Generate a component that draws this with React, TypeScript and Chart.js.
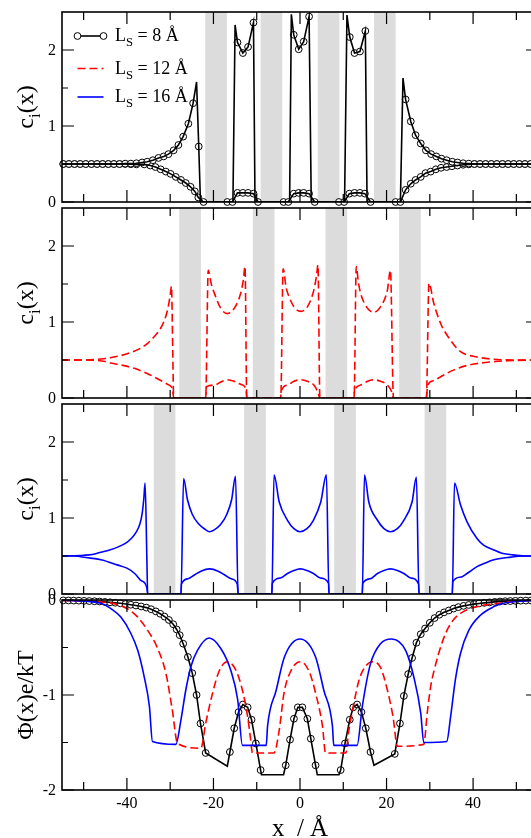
import React, { useEffect, useRef } from 'react';
import { Chart, registerables } from 'chart.js';

Chart.register(...registerables);

type Pt = [number, number];

// ---------- axis / tick values ----------
const X_MIN = -55;
const X_MAX = 55;
const X_MAJOR = [-40, -20, 0, 20, 40];
const X_MINOR = [-50, -30, -10, 10, 30, 50];
const C_MAJOR = [0, 1, 2];
const C_MINOR = [0.5, 1.5];
const PHI_MAJOR = [0, -1, -2];
const PHI_MINOR = [-0.5, -1.5];

const LEGEND_LABELS = ['8 Å', '12 Å', '16 Å'];

// ---------- grey wall bands (x ranges) ----------
const BANDS_8: Pt[] = [[-21.9, -16.9], [-9.1, -4.1], [4.1, 9.1], [17.1, 22.1]];
const BANDS_12: Pt[] = [[-27.9, -22.9], [-10.9, -5.9], [5.9, 10.9], [22.9, 27.9]];
const BANDS_16: Pt[] = [[-33.8, -28.8], [-12.9, -7.9], [7.9, 12.9], [28.8, 33.8]];

// ---------- panel 1 : L_S = 8 Å ----------
const C8_UP_MARK: Pt[] = [
  [-54.7, 0.5], [-53.4, 0.5], [-52.1, 0.5], [-50.8, 0.5], [-49.5, 0.5], [-48.2, 0.5], [-46.9, 0.5],
  [-45.6, 0.5], [-44.3, 0.5], [-43.0, 0.5], [-41.7, 0.5], [-40.4, 0.505], [-39.1, 0.505], [-37.8, 0.51],
  [-36.5, 0.52], [-35.3, 0.53], [-34.0, 0.55], [-32.7, 0.58], [-31.5, 0.6], [-30.4, 0.63], [-29.2, 0.68],
  [-28.1, 0.75], [-27.0, 0.86], [-25.8, 1.03], [-24.7, 1.3], [-23.4, 0.73],
  [-14.45, 2.1], [-13.2, 1.96], [-12.0, 2.04], [-10.75, 2.36],
  [-1.45, 2.2], [-0.3, 2.01], [0.85, 2.11], [2.1, 2.44],
  [11.5, 2.17], [12.6, 1.96], [13.85, 1.98], [15.1, 2.25],
  [24.4, 1.35], [25.6, 1.06], [26.7, 0.88], [27.9, 0.77], [29.1, 0.68], [30.3, 0.63], [31.5, 0.6],
  [32.7, 0.57], [33.9, 0.55], [35.2, 0.53], [36.4, 0.52], [37.7, 0.51], [39.0, 0.505], [40.3, 0.5],
  [41.6, 0.5], [42.9, 0.5], [44.2, 0.5], [45.5, 0.5], [46.8, 0.5], [48.1, 0.5], [49.4, 0.5],
  [50.7, 0.5], [52.0, 0.5], [53.3, 0.5], [54.6, 0.5],
];
const C8_UP_EXTRA: Pt[] = [
  [-55, 0.5], [-23.9, 1.58], [-23.0, 0], [-15.5, 0], [-15.0, 2.33], [-10.4, 0], [-2.4, 0], [-2.0, 2.47],
  [2.6, 0], [10.3, 0], [10.85, 2.46], [15.5, 0], [23.2, 0], [23.8, 1.63], [55, 0.5],
];
const C8_LO_MARK: Pt[] = [
  [-54.7, 0.5], [-53.4, 0.5], [-52.1, 0.5], [-50.8, 0.5], [-49.5, 0.5], [-48.2, 0.5], [-46.9, 0.5],
  [-45.6, 0.5], [-44.3, 0.5], [-43.0, 0.5], [-41.7, 0.5], [-40.4, 0.5], [-39.1, 0.497], [-37.8, 0.495],
  [-36.0, 0.495], [-34.6, 0.48], [-33.4, 0.46], [-32.2, 0.43], [-31.0, 0.4], [-29.9, 0.37], [-28.7, 0.33],
  [-27.5, 0.29], [-26.4, 0.25], [-25.3, 0.2], [-24.3, 0.14], [-23.5, 0.06], [-22.3, 0],
  [-16.8, 0], [-15.6, 0], [-14.45, 0.12], [-13.2, 0.12], [-12.0, 0.12], [-10.75, 0.11], [-9.7, 0],
  [-3.8, 0], [-2.7, 0], [-1.45, 0.11], [-0.3, 0.12], [0.85, 0.12], [2.1, 0.11], [3.4, 0],
  [9.0, 0], [10.2, 0], [11.4, 0.11], [12.6, 0.12], [13.85, 0.12], [15.0, 0.11], [16.3, 0],
  [22.1, 0], [23.2, 0], [24.4, 0.16], [25.6, 0.24], [26.7, 0.29], [27.9, 0.33], [29.0, 0.38],
  [30.2, 0.4], [31.4, 0.43], [32.6, 0.45], [33.9, 0.46], [35.1, 0.47], [36.4, 0.48], [37.7, 0.49],
  [39.0, 0.495], [40.3, 0.5], [41.6, 0.5], [42.9, 0.5], [44.2, 0.5], [45.5, 0.5], [46.8, 0.5],
  [48.1, 0.5], [49.4, 0.5], [50.7, 0.5], [52.0, 0.5], [53.3, 0.5], [54.6, 0.5],
];
const C8_LO_EXTRA: Pt[] = [[-55, 0.5], [55, 0.5]];

// ---------- panel 2 : L_S = 12 Å ----------
const C12_UP: Pt[] = [
  [-55, 0.5], [-50, 0.5], [-45, 0.52], [-42, 0.55], [-39, 0.6], [-37, 0.65], [-35.2, 0.72], [-33.5, 0.82],
  [-32.5, 0.89], [-31.5, 1.0], [-30.6, 1.16], [-30.0, 1.35], [-29.7, 1.47], [-29.4, 0.6], [-29.2, 0],
  [-21.8, 0], [-21.2, 1.68], [-20.5, 1.5], [-19.8, 1.38], [-18.3, 1.18], [-16.8, 1.11], [-15.2, 1.18],
  [-13.7, 1.38], [-13.1, 1.55], [-12.7, 1.73], [-12.3, 0],
  [-4.45, 0], [-3.9, 1.7], [-3.2, 1.45], [-2.5, 1.33], [-1.4, 1.2], [0.15, 1.14], [1.7, 1.2], [3.2, 1.42],
  [3.8, 1.6], [4.15, 1.75], [4.6, 0],
  [12.5, 0], [13.0, 1.73], [13.5, 1.52], [14.0, 1.38], [15.6, 1.18], [17.1, 1.13], [18.6, 1.2], [20.2, 1.42],
  [20.9, 1.68], [21.6, 0],
  [29.2, 0], [29.8, 1.51], [30.9, 1.25], [32.5, 0.98], [34.8, 0.76], [37.1, 0.61], [40.9, 0.54],
  [44.8, 0.51], [50, 0.5], [55, 0.5],
];
const C12_LO: Pt[] = [
  [-55, 0.5], [-50, 0.5], [-45, 0.48], [-43.7, 0.46], [-41, 0.43], [-38.3, 0.39], [-35.2, 0.32],
  [-32.5, 0.24], [-30.6, 0.18], [-29.8, 0.15], [-29.4, 0.1], [-29.2, 0],
  [-21.8, 0], [-21.6, 0.15], [-19.8, 0.17], [-18.3, 0.21], [-16.8, 0.24], [-15.2, 0.22], [-13.7, 0.18],
  [-12.8, 0.15], [-12.4, 0.08], [-12.3, 0],
  [-4.45, 0], [-4.4, 0.08], [-2.9, 0.17], [-1.4, 0.22], [0.15, 0.24], [1.7, 0.22], [3.2, 0.17], [4.1, 0.08], [4.6, 0],
  [12.5, 0], [12.55, 0.08], [14.0, 0.17], [15.6, 0.22], [17.1, 0.24], [18.6, 0.22], [20.2, 0.17], [21.2, 0.08], [21.6, 0],
  [29.2, 0], [29.5, 0.17], [31, 0.23], [32.5, 0.28], [35.6, 0.37], [38.7, 0.43], [43.3, 0.47], [48, 0.49], [55, 0.5],
];

// ---------- panel 3 : L_S = 16 Å ----------
const C16_UP: Pt[] = [
  [-55, 0.5], [-50, 0.51], [-48, 0.52], [-46, 0.55], [-44, 0.58], [-42, 0.62], [-40, 0.68], [-39, 0.73],
  [-38, 0.8], [-37, 0.92], [-36.5, 1.05], [-36.1, 1.25], [-35.8, 1.46], [-35.4, 0.5], [-35.2, 0],
  [-27.5, 0], [-26.9, 1.52], [-26.0, 1.24], [-24.9, 1.05], [-23.4, 0.92], [-21.9, 0.85], [-20.9, 0.82],
  [-19.9, 0.84], [-18.4, 0.91], [-16.9, 1.05], [-15.8, 1.24], [-14.9, 1.55], [-14.3, 0],
  [-6.5, 0], [-6.0, 1.57], [-4.8, 1.21], [-2.9, 0.97], [-1.4, 0.86], [0, 0.82], [1.6, 0.86], [3.1, 0.97],
  [4.8, 1.21], [6.1, 1.57], [6.7, 0],
  [14.4, 0], [14.9, 1.57], [15.9, 1.21], [17.9, 0.97], [19.4, 0.86], [20.9, 0.82], [22.5, 0.86],
  [24.0, 0.97], [25.9, 1.21], [26.9, 1.54], [27.5, 0],
  [35.2, 0], [35.7, 1.46], [37.1, 1.17], [38.6, 0.95], [40.9, 0.73], [42.5, 0.64], [44.8, 0.58],
  [46.5, 0.54], [48.6, 0.52], [52, 0.5], [55, 0.5],
];
const C16_LO: Pt[] = [
  [-55, 0.5], [-52, 0.5], [-49.5, 0.48], [-46, 0.45], [-42.1, 0.38], [-40, 0.34], [-38.2, 0.27],
  [-36.8, 0.18], [-35.8, 0.14], [-35.4, 0.08], [-35.2, 0],
  [-27.5, 0], [-27.4, 0.13], [-25.9, 0.2], [-24.4, 0.25], [-22.9, 0.3], [-20.9, 0.33], [-18.9, 0.3],
  [-17.4, 0.25], [-15.9, 0.2], [-14.5, 0.13], [-14.3, 0],
  [-6.5, 0], [-6.4, 0.14], [-4.5, 0.21], [-2.9, 0.27], [-1.4, 0.31], [0.1, 0.33], [1.6, 0.31], [3.1, 0.27],
  [4.7, 0.21], [6.6, 0.14], [6.7, 0],
  [14.4, 0], [14.5, 0.14], [16.2, 0.2], [17.9, 0.27], [19.4, 0.31], [20.9, 0.33], [22.5, 0.31],
  [24.0, 0.27], [25.6, 0.21], [27.4, 0.13], [27.5, 0],
  [35.2, 0], [35.3, 0.16], [37, 0.22], [38.6, 0.27], [40.9, 0.36], [42.5, 0.4], [44.8, 0.45],
  [48, 0.48], [52, 0.5], [55, 0.5],
];

// ---------- panel 4 : potential ----------
const PHI8_MARK: Pt[] = [
  [-54.7, -0.004], [-53.5, -0.005], [-52.3, -0.006], [-51.1, -0.007], [-49.9, -0.009], [-48.7, -0.011],
  [-47.5, -0.013], [-46.3, -0.016], [-45.1, -0.02], [-43.9, -0.024], [-42.7, -0.029], [-41.5, -0.035],
  [-40.3, -0.042], [-39.1, -0.05], [-37.9, -0.058], [-36.7, -0.068], [-35.5, -0.08], [-34.4, -0.097],
  [-33.3, -0.12], [-32.3, -0.145], [-31.3, -0.175], [-30.3, -0.21], [-29.3, -0.255], [-28.5, -0.31],
  [-27.8, -0.37], [-27.0, -0.46], [-25.9, -0.6], [-24.9, -0.77], [-23.9, -1.0], [-23.0, -1.3], [-21.8, -1.61],
  [-16.2, -1.6], [-15.2, -1.35], [-14.2, -1.18], [-13.2, -1.1], [-12.1, -1.13], [-11.2, -1.26], [-10.2, -1.51], [-9.1, -1.79],
  [-3.3, -1.74], [-2.3, -1.47], [-1.4, -1.25], [-0.5, -1.13], [0.55, -1.13], [1.7, -1.25], [2.5, -1.46], [3.6, -1.74],
  [9.4, -1.79], [10.4, -1.51], [11.5, -1.26], [12.3, -1.13], [13.2, -1.1], [14.2, -1.18], [15.2, -1.35], [16.3, -1.6],
  [21.9, -1.62], [23.1, -1.3], [24.0, -1.01], [25.0, -0.78], [25.9, -0.61], [26.9, -0.45], [27.9, -0.36],
  [28.9, -0.3], [30.0, -0.24], [31.1, -0.19], [32.2, -0.155], [33.3, -0.13], [34.4, -0.11], [35.5, -0.09],
  [36.6, -0.075], [37.8, -0.062], [39.0, -0.052], [40.2, -0.043], [41.4, -0.036], [42.6, -0.03], [43.8, -0.025],
  [45.0, -0.02], [46.2, -0.016], [47.4, -0.013], [48.6, -0.011], [49.8, -0.009], [51.0, -0.007], [52.2, -0.006],
  [53.4, -0.005], [54.6, -0.004],
];
const PHI8_EXTRA: Pt[] = [
  [-55, -0.003], [-16.8, -1.75], [-8.9, -1.84], [-3.8, -1.84], [4.0, -1.84], [9.0, -1.84], [17.1, -1.74], [55, -0.003],
];
const PHI12: Pt[] = [
  [-55, -0.005], [-50, -0.01], [-46, -0.02], [-44, -0.03], [-42.1, -0.05], [-40, -0.09], [-38.7, -0.13],
  [-37.5, -0.18], [-35.2, -0.32], [-33, -0.5], [-31, -0.77], [-29.5, -1.16], [-28.3, -1.51],
  [-22.9, -1.56], [-21.8, -1.3], [-20.2, -0.98], [-18.7, -0.75], [-16.8, -0.65], [-14.8, -0.74],
  [-13.3, -0.95], [-12.1, -1.23], [-11.4, -1.47], [-11.0, -1.61],
  [-6.0, -1.61], [-4.8, -1.37], [-3.7, -0.98], [-2.15, -0.75], [0.1, -0.65], [2.1, -0.75], [3.6, -0.98],
  [5.2, -1.33], [5.9, -1.61],
  [10.6, -1.61], [11.2, -1.4], [12.4, -1.1], [13.6, -0.85], [14.8, -0.72], [16.8, -0.65], [18.6, -0.71],
  [20.2, -0.95], [21.5, -1.23], [22.5, -1.54],
  [28.6, -1.52], [29.4, -1.19], [30.2, -0.91], [31.0, -0.74], [32.9, -0.44], [34.8, -0.25], [37.1, -0.14],
  [40.9, -0.07], [44.8, -0.04], [50, -0.015], [55, -0.005],
];
const PHI16: Pt[] = [
  [-55, -0.003], [-50, -0.012], [-48, -0.02], [-46, -0.035], [-43.7, -0.09], [-41.4, -0.18], [-39.1, -0.35],
  [-37.5, -0.53], [-36, -0.81], [-34.8, -1.12], [-34.1, -1.49],
  [-28.7, -1.52], [-27.5, -1.26], [-26.4, -0.95], [-25.2, -0.7], [-23.7, -0.53], [-21.0, -0.4], [-18.3, -0.51],
  [-16.0, -0.74], [-14.4, -1.05], [-13.3, -1.53],
  [-7.8, -1.53], [-7.5, -1.33], [-5.5, -0.95], [-3.6, -0.6], [0, -0.41], [3.6, -0.6], [5.5, -0.95],
  [7.5, -1.33], [7.8, -1.53],
  [13.2, -1.53], [14.4, -1.12], [16.3, -0.67], [18.6, -0.46], [21.2, -0.41], [24.4, -0.53], [26.3, -0.81],
  [27.9, -1.19], [28.6, -1.5],
  [33.9, -1.49], [34.8, -1.23], [35.9, -0.84], [37.1, -0.56], [39, -0.32], [41.7, -0.16], [44.8, -0.07],
  [47, -0.035], [50, -0.015], [55, -0.003],
];

// ---------- helpers ----------
const FONT = "'Liberation Serif', 'DejaVu Serif', 'Times New Roman', serif";
const BLACK = '#000000';
const RED = '#ff0000';
const BLUE = '#0000ff';
const GREY = '#dcdcdc';

const toXY = (pts: Pt[]) => pts.map(([x, y]) => ({ x, y }));
const merge = (a: Pt[], b: Pt[]) => [...a, ...b].sort((p, q) => p[0] - q[0]);

type Run = { t: string; sub?: boolean };

function drawRich(ctx: CanvasRenderingContext2D, runs: Run[], x: number, y: number, size: number, align: 'left' | 'center') {
  const subSize = size * 0.7;
  let w = 0;
  for (const r of runs) {
    ctx.font = `${r.sub ? subSize : size}px ${FONT}`;
    w += ctx.measureText(r.t).width;
  }
  let cx = align === 'center' ? x - w / 2 : x;
  ctx.textAlign = 'left';
  ctx.textBaseline = 'alphabetic';
  for (const r of runs) {
    ctx.font = `${r.sub ? subSize : size}px ${FONT}`;
    ctx.fillText(r.t, cx, r.sub ? y + size * 0.28 : y);
    cx += ctx.measureText(r.t).width;
  }
}

const lineDs = (pts: Pt[], color: string, dash: number[] = [], smooth = true) => ({
  data: toXY(pts),
  borderColor: color,
  borderWidth: 1.6,
  borderDash: dash,
  pointRadius: 0,
  fill: false,
  tension: 0,
  cubicInterpolationMode: smooth ? 'monotone' : 'default',
});

const markDs = (pts: Pt[]) => ({
  data: toXY(pts),
  showLine: false,
  pointRadius: 3.4,
  pointBorderWidth: 1,
  pointBorderColor: BLACK,
  pointBackgroundColor: '#ffffff',
  clip: false,
});

type Spec = {
  top: number;
  height: number;
  padTop: number;
  padBottom: number;
  yMin: number;
  yMax: number;
  yMajor: number[];
  yMinor: number[];
  bands: Pt[];
  title: Run[];
  datasets: any[];
  bottom?: boolean;
  legend?: boolean;
};

const C_TITLE: Run[] = [{ t: 'c' }, { t: 'i', sub: true }, { t: '(x)' }];

const SPECS: Spec[] = [
  {
    top: 0, height: 215, padTop: 12, padBottom: 13, yMin: 0, yMax: 2.5, yMajor: C_MAJOR, yMinor: C_MINOR,
    bands: BANDS_8, title: C_TITLE, legend: true,
    datasets: [
      lineDs(merge(C8_UP_MARK, C8_UP_EXTRA), BLACK, [], false),
      lineDs(merge(C8_LO_MARK, C8_LO_EXTRA), BLACK, [], false),
      markDs(C8_UP_MARK),
      markDs(C8_LO_MARK),
    ],
  },
  {
    top: 196, height: 215, padTop: 12, padBottom: 13, yMin: 0, yMax: 2.5, yMajor: C_MAJOR, yMinor: C_MINOR,
    bands: BANDS_12, title: C_TITLE,
    datasets: [lineDs(C12_UP, RED, [8, 4]), lineDs(C12_LO, RED, [8, 4])],
  },
  {
    top: 392, height: 215, padTop: 12, padBottom: 13, yMin: 0, yMax: 2.5, yMajor: C_MAJOR, yMinor: C_MINOR,
    bands: BANDS_16, title: C_TITLE,
    datasets: [lineDs(C16_UP, BLUE), lineDs(C16_LO, BLUE)],
  },
  {
    top: 588, height: 250, padTop: 12, padBottom: 48, yMin: -2, yMax: 0, yMajor: PHI_MAJOR, yMinor: PHI_MINOR,
    bands: [], title: [{ t: 'Φ(x)e/kT' }], bottom: true,
    datasets: [
      lineDs(PHI16, BLUE),
      lineDs(PHI12, RED, [8, 4]),
      lineDs(merge(PHI8_MARK, PHI8_EXTRA), BLACK, [], false),
      markDs(PHI8_MARK),
    ],
  },
];

function makePlugin(spec: Spec) {
  return {
    id: 'panelDecor',
    beforeDatasetsDraw(chart: any) {
      const { ctx, chartArea: a, scales } = chart;
      const xs = scales.x;
      ctx.save();
      ctx.fillStyle = GREY;
      for (const [x0, x1] of spec.bands) {
        const p0 = xs.getPixelForValue(x0);
        const p1 = xs.getPixelForValue(x1);
        ctx.fillRect(p0, a.top, p1 - p0, a.bottom - a.top);
      }
      ctx.restore();
    },
    afterDraw(chart: any) {
      const { ctx, chartArea: a, scales } = chart;
      const xs = scales.x;
      const ys = scales.y;
      ctx.save();
      // ticks
      ctx.strokeStyle = BLACK;
      ctx.lineWidth = 1.2;
      ctx.beginPath();
      const xt = (v: number, len: number) => {
        const p = xs.getPixelForValue(v);
        ctx.moveTo(p, a.bottom); ctx.lineTo(p, a.bottom - len);
        ctx.moveTo(p, a.top); ctx.lineTo(p, a.top + len);
      };
      X_MAJOR.forEach((v) => xt(v, 12));
      X_MINOR.forEach((v) => xt(v, 8));
      const yt = (v: number, len: number) => {
        const p = ys.getPixelForValue(v);
        ctx.moveTo(a.left, p); ctx.lineTo(a.left + len, p);
        ctx.moveTo(a.right, p); ctx.lineTo(a.right - len, p);
      };
      spec.yMajor.forEach((v) => yt(v, 12));
      spec.yMinor.forEach((v) => yt(v, 6));
      ctx.stroke();
      // frame
      ctx.lineWidth = 1.6;
      ctx.strokeRect(a.left, a.top, a.right - a.left, a.bottom - a.top);
      // y tick labels
      ctx.fillStyle = BLACK;
      ctx.font = `16px ${FONT}`;
      ctx.textAlign = 'right';
      ctx.textBaseline = 'middle';
      spec.yMajor.forEach((v) => ctx.fillText(String(v), a.left - 6, ys.getPixelForValue(v) + 1));
      // y title
      ctx.save();
      ctx.translate(25, (a.top + a.bottom) / 2);
      ctx.rotate(-Math.PI / 2);
      drawRich(ctx, spec.title, 0, 8, 24, 'center');
      ctx.restore();
      // bottom axis labels
      if (spec.bottom) {
        ctx.font = `16px ${FONT}`;
        ctx.textAlign = 'center';
        ctx.textBaseline = 'alphabetic';
        X_MAJOR.forEach((v) => ctx.fillText(String(v), xs.getPixelForValue(v), a.bottom + 18));
        drawRich(ctx, [{ t: 'x  / Å' }], xs.getPixelForValue(0), a.bottom + 46, 25, 'center');
      }
      // legend
      if (spec.legend) {
        const rows = [
          { color: BLACK, dash: [] as number[], marks: true, y: 36 },
          { color: RED, dash: [8, 4], marks: false, y: 68.5 },
          { color: BLUE, dash: [] as number[], marks: false, y: 97 },
        ];
        rows.forEach((r, i) => {
          ctx.strokeStyle = r.color;
          ctx.lineWidth = 1.6;
          ctx.setLineDash(r.dash);
          ctx.beginPath();
          ctx.moveTo(77.5, r.y);
          ctx.lineTo(103.5, r.y);
          ctx.stroke();
          ctx.setLineDash([]);
          if (r.marks) {
            ctx.lineWidth = 1;
            ctx.strokeStyle = BLACK;
            ctx.fillStyle = '#ffffff';
            [77.5, 103.5].forEach((px) => {
              ctx.beginPath();
              ctx.arc(px, r.y, 3.4, 0, Math.PI * 2);
              ctx.fill();
              ctx.stroke();
            });
          }
          ctx.fillStyle = BLACK;
          drawRich(ctx, [{ t: 'L' }, { t: 'S', sub: true }, { t: ' = ' + LEGEND_LABELS[i] }], 115, r.y + 5, 18, 'left');
        });
      }
      ctx.restore();
    },
  };
}

function Panel({ spec }: { spec: Spec }) {
  const ref = useRef<HTMLCanvasElement>(null);
  useEffect(() => {
    const chart = new Chart(ref.current as HTMLCanvasElement, {
      type: 'line',
      data: { datasets: spec.datasets },
      options: {
        animation: false,
        responsive: false,
        maintainAspectRatio: false,
        devicePixelRatio: 1,
        events: [],
        layout: { padding: { left: 62, right: 7, top: spec.padTop, bottom: spec.padBottom } },
        scales: {
          x: { type: 'linear', min: X_MIN, max: X_MAX, display: false },
          y: { type: 'linear', min: spec.yMin, max: spec.yMax, display: false },
        },
        plugins: { legend: { display: false }, tooltip: { enabled: false } },
      } as any,
      plugins: [makePlugin(spec)],
    });
    return () => chart.destroy();
  }, [spec]);
  return (
    <canvas
      ref={ref}
      width={545}
      height={spec.height}
      style={{ position: 'absolute', left: 0, top: spec.top, width: 545, height: spec.height }}
    />
  );
}

export default function App() {
  return (
    <div style={{ position: 'absolute', left: 0, top: 0, width: 531, height: 838, overflow: 'hidden', background: '#ffffff' }}>
      {SPECS.map((s, i) => (
        <Panel key={i} spec={s} />
      ))}
    </div>
  );
}
